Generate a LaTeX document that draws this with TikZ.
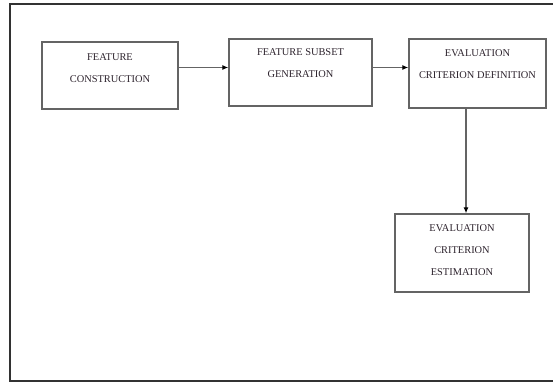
\documentclass[tikz,border=0pt]{standalone}
\usepackage{fontspec}
\setmainfont{Liberation Serif}
\usetikzlibrary{arrows.meta}
\definecolor{boxline}{RGB}{100,100,100}
\definecolor{frameline}{RGB}{50,50,50}
\definecolor{textgray}{RGB}{45,35,45}
\begin{document}
\begin{tikzpicture}[x=1pt,y=-1pt,
  stagebox/.style={draw=boxline,line width=1.4pt,fill=white},
  lbl/.style={font=\fontsize{10.4}{22}\selectfont,text=textgray,align=center,inner sep=0pt},
  flow/.style={draw=boxline,line width=1.1pt,-{Latex[length=6pt,width=5pt,color=black]}}]
  % page area and outer frame
  \useasboundingbox (0,0) rectangle (553,383);
  \fill[white] (0,0) rectangle (553,383);
  \draw[frameline,line width=2pt] (553,4) -- (10,4) -- (10,381) -- (553,381);

  % stage boxes
  \node[stagebox,minimum width=136pt,minimum height=67pt] (fc) at (110,75.5) {};
  \node[stagebox,minimum width=143pt,minimum height=67pt] (fsg) at (300.5,72.5) {};
  \node[stagebox,minimum width=137pt,minimum height=69pt] (ecd) at (477.5,73.5) {};
  \node[stagebox,minimum width=134pt,minimum height=78pt] (ece) at (462,253) {};

  % labels
  \node[lbl] (fct) at (110,68) {FEATURE\\CONSTRUCTION};
  \node[lbl] (fsgt) at (300.5,63) {FEATURE SUBSET\\GENERATION};
  \node[lbl] (ecdt) at (477.5,64) {EVALUATION\\CRITERION DEFINITION};
  \node[lbl] (ecet) at (462,250) {EVALUATION\\CRITERION\\ESTIMATION};

  % connectors
  \draw[flow] (fc.east) ++(0,-8) coordinate (a1) -- (a1 -| fsg.west);
  \draw[flow] (fsg.east) ++(0,-5) coordinate (a2) -- (a2 -| ecd.west);
  \draw[flow] (ecd.south -| ece.north) ++(4,0) coordinate (a3) -- (a3 |- ece.north);
\end{tikzpicture}
\end{document}
